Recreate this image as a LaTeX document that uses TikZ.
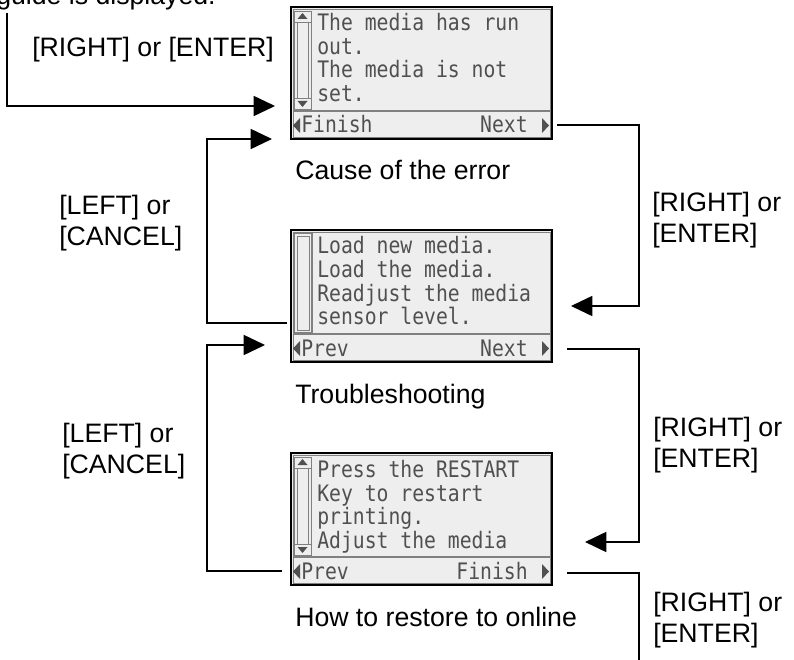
\documentclass[tikz,border=0pt]{standalone}
\usepackage{fontspec}
\usepackage{graphicx}
\setmainfont{Liberation Sans}
\newfontfamily\lcdfont{DejaVu Sans Mono}
\usetikzlibrary{arrows.meta, calc}
\definecolor{lcdbg}{HTML}{EEEEEE}
\definecolor{lcdink}{HTML}{505050}
\definecolor{lcdline}{HTML}{808080}
% one text row of a display, #3 = baseline below the top edge
\newcommand\lcdrow[4]{\node[lcdtext] (#1) at ($(#2.north west)+(26,#3)$) {\scalebox{1}[1.15]{#4}};}

\begin{document}
\begin{tikzpicture}[x=0.75pt,y=-0.75pt]
\tikzset{screen/.style={draw=black,line width=1.1pt,fill=lcdbg,minimum width=195.75pt,
           minimum height=99pt,inner sep=0pt,outer sep=0pt},
         lcdtext/.style={font=\lcdfont\fontsize{14.8}{17}\selectfont,text=lcdink,inner sep=0pt,anchor=base west},
         lcdgray/.style={draw=lcdline,line width=0.6pt},
         flow/.style={line width=1.3pt,-{Triangle[length=16pt,width=15pt]}},
         wire/.style={line width=1.3pt},
         keylabel/.style={font=\fontsize{20}{23.25}\selectfont,align=left,anchor=west,inner sep=0pt},
         caption/.style={font=\fontsize{20}{24}\selectfont,anchor=base west,inner sep=0pt}}
\fill[white] (0,0) rectangle (794,660);
\useasboundingbox (0,0) rectangle (794,660);
% Displays
\foreach \n/\y in {scr1/73,scr2/296,scr3/519}{
  \node[screen] (\n) at (421.5,\y) {};
  \draw[lcdgray] ($(\n.north west)+(2,2)$) rectangle ($(\n.south east)+(-2,-2)$);
  \draw[lcdgray,line width=0.9pt] ($(\n.north west)+(2,104)$) -- ($(\n.north east)+(-2,104)$);
  % soft key triangles
  \fill[lcdink] ($(\n.north west)+(2,118.5)$) -- ++(7,-7.5) -- ++(0,15) -- cycle;
  \fill[lcdink] ($(\n.north east)+(-3,118.5)$) -- ++(-7,-7.5) -- ++(0,15) -- cycle;
}
% scroll bars with arrows
\foreach \n in {scr1,scr3}{
  \draw[lcdgray] ($(\n.north west)+(3,4)$) rectangle ($(\n.north west)+(20,102)$);
  \draw[lcdgray] ($(\n.north west)+(6,15)$) rectangle ($(\n.north west)+(17,91)$);
  \draw[lcdgray] ($(\n.north west)+(3,15)$) -- ++(17,0);
  \draw[lcdgray] ($(\n.north west)+(3,91)$) -- ++(17,0);
  \fill[lcdink] ($(\n.north west)+(11.5,6)$) -- ++(5,6) -- ++(-10,0) -- cycle;
  \fill[lcdink] ($(\n.north west)+(11.5,100)$) -- ++(5,-6) -- ++(-10,0) -- cycle;
}
% plain scroll bar
\draw[lcdgray,line width=1pt] ($(scr2.north west)+(3,3)$) rectangle ($(scr2.north west)+(21,103)$);
\draw[lcdgray,line width=0.4pt] ($(scr2.north west)+(6,6)$) rectangle ($(scr2.north west)+(18,100)$);
% Display texts
\lcdrow{a1}{scr1}{24}{The media has run}
\lcdrow{a2}{scr1}{48}{out.}
\lcdrow{a3}{scr1}{71}{The media is not}
\lcdrow{a4}{scr1}{95}{set.}
\lcdrow{b1}{scr2}{23}{Load new media.}
\lcdrow{b2}{scr2}{47}{Load the media.}
\lcdrow{b3}{scr2}{71}{Readjust the media}
\lcdrow{b4}{scr2}{95}{sensor level.}
\lcdrow{c1}{scr3}{24}{Press the RESTART}
\lcdrow{c2}{scr3}{48}{Key to restart}
\lcdrow{c3}{scr3}{71}{printing.}
\lcdrow{c4}{scr3}{95}{Adjust the media}
% soft key labels
\node[lcdtext] (fin1) at ($(scr1.north west)+(10,126)$) {\scalebox{1}[1.15]{Finish}};
\node[lcdtext,anchor=base east] (nxt1) at ($(scr1.north east)+(-24,126)$) {\scalebox{1}[1.15]{Next}};
\node[lcdtext] (prv2) at ($(scr2.north west)+(10,126)$) {\scalebox{1}[1.15]{Prev}};
\node[lcdtext,anchor=base east] (nxt2) at ($(scr2.north east)+(-24,126)$) {\scalebox{1}[1.15]{Next}};
\node[lcdtext] (prv3) at ($(scr3.north west)+(10,126)$) {\scalebox{1}[1.15]{Prev}};
\node[lcdtext,anchor=base east] (fin3) at ($(scr3.north east)+(-24,126)$) {\scalebox{1}[1.15]{Finish}};
% Captions
\node[caption] (cap1) at ($(scr1.south west)+(4,41)$) {Cause of the error};
\node[caption] (cap2) at ($(scr2.south west)+(4,41)$) {Troubleshooting};
\node[caption] (cap3) at ($(scr3.south west)+(4,41)$) {How to restore to online};
\node[caption] (intro) at (-4,5) {guide is displayed.};
% Connectors
\coordinate (entry) at (7,13);
\coordinate (in1) at ($(scr1.north west)+(-16,99)$);
\draw[flow] (entry) |- (in1);
\coordinate (out1) at ($(scr1.north east)+(5,118)$);
\coordinate (turn1) at (639,306);
\coordinate (in2) at (571,306);
\draw[flow] (out1) -| (turn1) -- (in2);
\coordinate (out2) at ($(scr2.north east)+(15,119)$);
\coordinate (turn2) at (639,542);
\coordinate (in3) at (585,542);
\draw[flow] (out2) -| (turn2) -- (in3);
\coordinate (out3) at ($(scr3.north east)+(15,120)$);
\coordinate (exit) at (639,670);
\draw[wire] (out3) -| (exit);
\coordinate (back2) at ($(scr2.north west)+(-4,93)$);
\coordinate (turnA) at (207,139);
\coordinate (up1) at ($(scr1.north west)+(-19,132)$);
\draw[flow] (back2) -| (turnA) -- (up1);
\coordinate (back3) at ($(scr3.north west)+(-9,118)$);
\coordinate (turnB) at (207,345);
\coordinate (up2) at ($(scr2.north west)+(-26,115)$);
\draw[flow] (back3) -| (turnB) -- (up2);
% Key labels
\node[keylabel] (k0) at (32,50) {[RIGHT] or [ENTER]};
\node[keylabel] (kl1) at (59,223) {[LEFT] or\\{[CANCEL]}};
\node[keylabel] (kl2) at (62,451) {[LEFT] or\\{[CANCEL]}};
\node[keylabel] (kr1) at (652,220) {[RIGHT] or\\{[ENTER]}};
\node[keylabel] (kr2) at (653,445) {[RIGHT] or\\{[ENTER]}};
\node[keylabel] (kr3) at (653,620) {[RIGHT] or\\{[ENTER]}};
\end{tikzpicture}
\end{document}
